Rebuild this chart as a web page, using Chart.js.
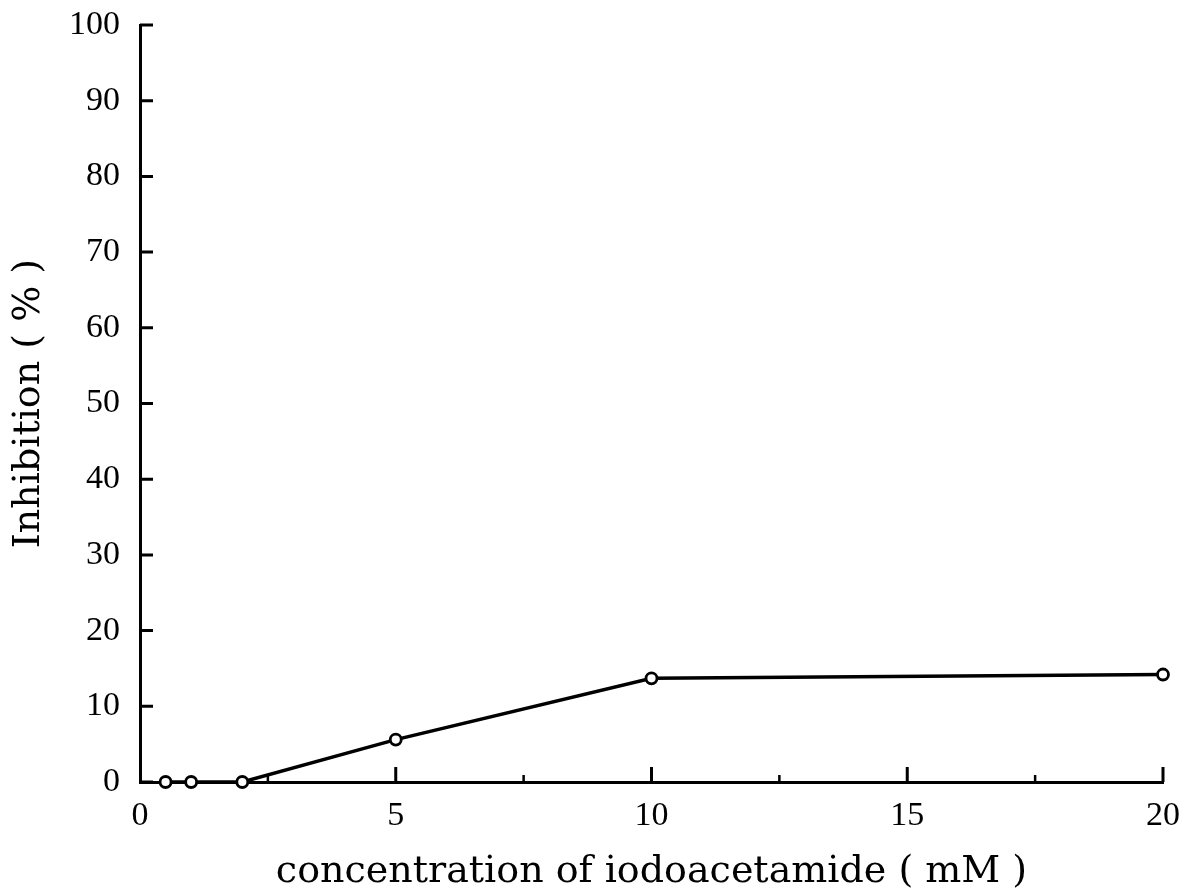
<!DOCTYPE html>
<html>
<head>
<meta charset="utf-8">
<script src="https://cdn.jsdelivr.net/npm/chart.js@4/dist/chart.umd.min.js"></script>
<style>
  html, body { margin: 0; padding: 0; background: #fff; }
  #wrap { width: 1184px; height: 892px; }
</style>
</head>
<body>
<div id="wrap"><canvas id="chart" width="1184" height="892"></canvas></div>
<script>
// Data
const concentration = [0.5, 1, 2, 5, 10, 20];
const inhibition = [0, 0, 0, 5.6, 13.7, 14.2];
const xMajorTicks = [5, 10, 15, 20];
const xMinorTicks = [2.5, 7.5, 12.5, 17.5];
const yTicks = [0, 10, 20, 30, 40, 50, 60, 70, 80, 90, 100];

const TICK_FONT = "'Liberation Serif', serif";
const TITLE_FONT = "'DejaVu Serif', serif";

// ticks pointing into the plot, drawn from the scales
const inwardTicks = {
    id: 'inwardTicks',
    beforeDatasetsDraw(chart) {
        const { ctx, scales: { x, y } } = chart;
        ctx.save();
        ctx.strokeStyle = '#000';
        ctx.lineWidth = 3;
        ctx.beginPath();
        yTicks.forEach(v => {
            const py = y.getPixelForValue(v);
            ctx.moveTo(x.left, py);
            ctx.lineTo(x.left + 13, py);
        });
        xMajorTicks.forEach(v => {
            const px = x.getPixelForValue(v);
            ctx.moveTo(px, y.bottom);
            ctx.lineTo(px, y.bottom - 15);
        });
        ctx.stroke();
        ctx.lineWidth = 2.5;
        ctx.beginPath();
        xMinorTicks.forEach(v => {
            const px = x.getPixelForValue(v);
            ctx.moveTo(px, y.bottom);
            ctx.lineTo(px, y.bottom - 7);
        });
        ctx.stroke();
        ctx.restore();
    }
};

const ctx = document.getElementById('chart').getContext('2d');
new Chart(ctx, {
    type: 'scatter',
    data: {
        datasets: [{
            data: concentration.map((c, i) => ({ x: c, y: inhibition[i] })),
            showLine: true,
            borderColor: '#000',
            borderWidth: 3.4,
            pointRadius: 5.5,
            pointBorderWidth: 2.8,
            pointBackgroundColor: '#fff',
            pointBorderColor: '#000',
            clip: false
        }]
    },
    options: {
        responsive: false,
        animation: false,
        layout: { padding: { top: 25, right: 21, left: 0, bottom: 0 } },
        plugins: { legend: { display: false }, tooltip: { enabled: false } },
        scales: {
            x: {
                type: 'linear',
                min: 0, max: 20,
                afterFit: s => { s.height = 110; s.paddingLeft = 0; s.paddingRight = 0; },
                grid: { display: false, drawTicks: false },
                border: { display: true, color: '#000', width: 3 },
                ticks: { stepSize: 5, padding: 14, color: '#000', font: { family: TICK_FONT, size: 34 } },
                title: {
                    display: true,
                    text: 'concentration of iodoacetamide ( mM )',
                    color: '#000',
                    font: { family: TITLE_FONT, size: 38, lineHeight: 1 },
                    padding: { top: 0, bottom: 1 }
                }
            },
            y: {
                min: 0, max: 100,
                afterFit: s => { s.width = 140; s.paddingTop = 0; s.paddingBottom = 0; },
                grid: { display: false, drawTicks: false },
                border: { display: true, color: '#000', width: 3 },
                ticks: { stepSize: 10, padding: 20, color: '#000', font: { family: TICK_FONT, size: 34 } },
                title: {
                    display: true,
                    text: 'Inhibition ( % )',
                    color: '#000',
                    font: { family: TITLE_FONT, size: 38, lineHeight: 1 },
                    padding: { top: 10, bottom: 0 }
                }
            }
        }
    },
    plugins: [inwardTicks]
});
</script>
</body>
</html>
